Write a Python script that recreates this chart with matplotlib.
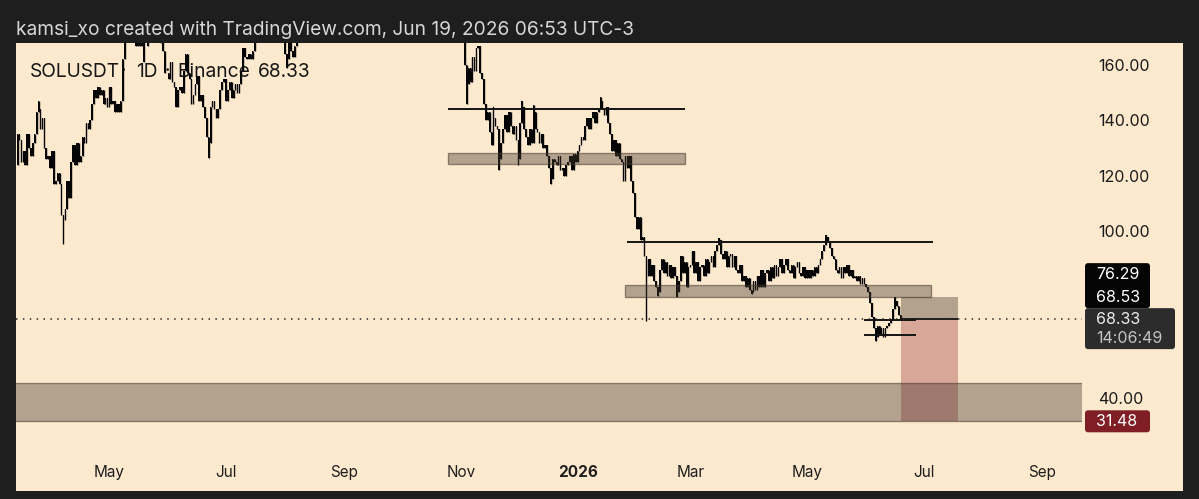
import matplotlib
matplotlib.use('Agg')
import matplotlib.pyplot as plt
import numpy as np
import pandas as pd
import matplotlib.dates as mdates
from matplotlib.patches import Rectangle, FancyBboxPatch

plt.rcParams['font.family'] = ['Inter', 'DejaVu Sans']

# SOLUSDT daily closes (Binance), starting 2025-03-13
mar25 = [124, 135, 133, 125, 129, 124, 135, 130, 127, 132, 135, 143, 144, 137, 141, 130, 126, 127, 123]
apr25 = [129, 117, 118, 121, 117, 106, 104, 108, 118, 112, 125, 131, 124, 132, 125, 127, 134, 132, 139, 137,
         140, 146, 151, 148, 152, 149, 151, 146, 148, 145]
may25 = [152, 146, 147, 143, 146, 143, 147, 162, 173, 172, 174, 175, 180, 175, 167, 171, 167, 172, 167, 167,
         170, 180, 176, 177, 177, 176, 178, 168, 165, 157, 157]
jun25 = [155, 161, 154, 152, 145, 151, 152, 150, 158, 164, 157, 155, 146, 149, 153, 156, 147, 149, 145, 141,
         134, 132, 145, 147, 144, 141, 144, 151, 154, 155]
jul25 = [147, 151, 154, 148, 151, 153, 150, 153, 158, 166, 163, 162, 164, 162, 165, 174, 176, 178, 177, 185,
         194, 202, 188, 187, 186, 187, 192, 182, 180, 177, 172]
aug25 = [164, 162, 168, 165, 163, 167, 176, 175, 180, 178, 174, 196, 202, 193, 186, 186, 189, 180, 178, 186,
         182, 200, 205, 205, 193, 200, 212, 214, 207, 206, 201]
sep25 = [205, 210, 210, 205, 205, 203, 205, 214, 218, 220, 224, 228, 242, 245, 238, 235, 245, 244, 240, 245,
         238, 228, 220, 215, 200, 208, 205, 203, 210, 208]
oct25 = [220, 230, 232, 228, 232, 227, 220, 225, 218, 185, 182, 198, 202, 200, 191, 185, 186, 186, 188, 184,
         183, 191, 195, 198, 200, 198, 196, 184, 194, 184, 186]
nov25 = [186, 185, 160, 153, 159, 154, 163, 158, 166, 167, 157, 155, 146, 140, 143, 136, 131, 141, 138, 137,
         126, 132, 137, 142, 136, 143, 138, 135, 138, 133]
dec25 = [126, 139, 145, 137, 134, 131, 137, 132, 143, 137, 136, 132, 135, 130, 131, 127, 123, 119, 126, 125,
         124, 127, 122, 123, 120, 124, 125, 127, 122, 128, 125]
jan26 = [129, 131, 134, 133, 138, 141, 137, 141, 143, 139, 143, 144, 147, 144, 142, 145, 139, 135, 129, 133,
         127, 132, 126, 125, 118, 127, 123, 127, 118, 114, 105]
feb26 = [101, 105, 97, 98, 91, 84, 90, 84, 88, 82, 80, 78, 86, 90, 85, 89, 84, 88, 83, 87,
         84, 78, 82, 91, 85, 89, 80, 87]
mar26 = [88, 93, 85, 89, 82, 87, 88, 84, 90, 85, 89, 91, 87, 93, 95, 97, 92, 90, 93, 87,
         91, 92, 87, 91, 86, 85, 88, 82, 84, 80, 83]
apr26 = [79, 78, 82, 79, 84, 80, 86, 80, 85, 86, 82, 87, 83, 88, 84, 87, 90, 85, 88, 90,
         86, 85, 88, 83, 87, 89, 85, 84, 87, 83]
may26 = [86, 83, 86, 84, 87, 85, 88, 90, 93, 95, 98, 96, 94, 91, 90, 86, 85, 87, 83, 87,
         85, 88, 84, 86, 83, 84, 82, 84, 81, 83, 81]
jun26 = [80, 78, 74, 69, 65, 62, 66, 63, 65, 62, 65, 66, 67, 68, 72, 75, 73, 70, 68.33]

# wicks that reach past the body
low_wick_dates = ['2025-04-07', '2025-05-19', '2025-06-22', '2025-08-02', '2025-11-04', '2025-11-21',
                  '2025-12-01', '2025-12-18', '2026-02-06', '2026-02-12', '2026-02-22', '2026-04-02',
                  '2026-06-06']
low_wick_vals = [95.5, 161, 126.5, 159, 146, 122, 124, 117, 67.8, 76.5, 76.3, 77.5, 60.5]
high_wick_dates = ['2025-03-25', '2025-11-18', '2025-12-03', '2025-12-09', '2026-01-13', '2026-03-16',
                   '2026-05-11', '2026-06-16']
high_wick_vals = [147, 145, 147, 145.5, 148.5, 97.6, 98.7, 76.3]

# drawings
line_starts = ['2025-10-25', '2026-01-27', '2026-05-31', '2026-05-31']
line_ends = ['2026-02-26', '2026-07-06', '2026-06-27', '2026-06-27']
line_prices = [144.0, 96.3, 68.0, 62.7]
zone_starts = ['2025-10-25', '2026-01-26', '2025-01-01']
zone_ends = ['2026-02-26', '2026-07-05', '2026-12-31']
zone_lows = [124.4, 76.3, 31.48]
zone_highs = [128.1, 80.5, 45.4]
pos_start, pos_end = '2026-06-19', '2026-07-19'
entry, stop, target = 68.53, 76.29, 31.48
last_price = 68.33

tick_dates = ['2025-05-01', '2025-07-01', '2025-09-01', '2025-11-01', '2026-01-01',
              '2026-03-01', '2026-05-01', '2026-07-01', '2026-09-01']
tick_labels = ['May', 'Jul', 'Sep', 'Nov', '2026', 'Mar', 'May', 'Jul', 'Sep']
price_ticks = [40, 100, 120, 140, 160]

closes = np.array(mar25 + apr25 + may25 + jun25 + jul25 + aug25 + sep25 + oct25 + nov25 + dec25
                  + jan26 + feb26 + mar26 + apr26 + may26 + jun26, dtype=float)
dates = pd.date_range('2025-03-13', periods=len(closes), freq='D')
opens = np.concatenate([[closes[0]], closes[:-1]])
lows = np.minimum(opens, closes)
highs = np.maximum(opens, closes)
s_low = pd.Series(lows, index=dates)
s_high = pd.Series(highs, index=dates)
for d, v in zip(low_wick_dates, low_wick_vals):
    s_low[pd.Timestamp(d)] = min(s_low[pd.Timestamp(d)], v)
for d, v in zip(high_wick_dates, high_wick_vals):
    s_high[pd.Timestamp(d)] = max(s_high[pd.Timestamp(d)], v)

W, H = 1199, 499
BG = '#FDE9CE'
DARK = '#1E1E1E'
fig = plt.figure(figsize=(W / 100, H / 100), dpi=100, facecolor=DARK)
fig.add_artist(Rectangle((16 / W, 8 / H), (1183 - 16) / W, (456 - 8) / H, transform=fig.transFigure,
                         facecolor=BG, edgecolor='none', zorder=-5))

ax = fig.add_axes([16 / W, 49 / H, (1082 - 16) / W, (456 - 49) / H])
ax.set_facecolor(BG)
for sp in ax.spines.values():
    sp.set_visible(False)

jan1 = mdates.date2num(pd.Timestamp('2026-01-01'))
ax.set_xlim(jan1 - 293.8, jan1 + 263.9)
ax.set_ylim(21.13, 167.93)

x = mdates.date2num(dates)
ax.vlines(x, s_low.values, s_high.values, color='#050505', lw=1.0, zorder=3)
ax.bar(x, highs - lows, bottom=lows, width=0.78, color='#050505', linewidth=0, zorder=3)

# zones
for a, b, lo, hi in zip(zone_starts, zone_ends, zone_lows, zone_highs):
    xa, xb = mdates.date2num(pd.Timestamp(a)), mdates.date2num(pd.Timestamp(b))
    ax.add_patch(Rectangle((xa, lo), xb - xa, hi - lo, facecolor=(0.27, 0.22, 0.18, 0.40),
                           edgecolor=(0.27, 0.22, 0.18, 0.55), lw=1, zorder=5))

# short position tool
pa, pb = mdates.date2num(pd.Timestamp(pos_start)), mdates.date2num(pd.Timestamp(pos_end))
ax.add_patch(Rectangle((pa, target), pb - pa, entry - target, facecolor='#D8A797', edgecolor='none', zorder=4))
ax.add_patch(Rectangle((pa, entry), pb - pa, stop - entry, facecolor=(0.27, 0.22, 0.18, 0.40),
                       edgecolor='none', zorder=5))
ax.hlines(entry, pa, pb, color='#141414', lw=1.3, zorder=6)

# levels
for a, b, p in zip(line_starts, line_ends, line_prices):
    ax.hlines(p, mdates.date2num(pd.Timestamp(a)), mdates.date2num(pd.Timestamp(b)),
              color='#141414', lw=1.4, zorder=6)

# last price dotted line
ax.axhline(last_price, color='#2A2A2A', lw=1.1, linestyle=(0, (1, 3.5)), zorder=6)

# axes ticks
ax.set_xticks(mdates.date2num(pd.to_datetime(tick_dates)))
ax.set_xticklabels(tick_labels, fontsize=11, color='#1E1E1E')
ax.get_xticklabels()[4].set_fontweight('bold')
ax.yaxis.tick_right()
ax.set_yticks(price_ticks)
ax.set_yticklabels(['%.2f' % v for v in price_ticks], fontsize=11.5, color='#1A1A1A')
ax.tick_params(axis='x', length=0, pad=11)
ax.tick_params(axis='y', length=0, pad=11.5)

# legend pieces
legend_parts = ['SOLUSDT', '·', '1D', '·', 'Binance', '68.33']
legend_px = [30, 121, 136, 164, 177, 258]
for t, px in zip(legend_parts, legend_px):
    ax.text((px - 16) / 1066, 1 - 29 / 407, t, transform=ax.transAxes,
            fontsize=13.8, color='#161616', va='center', ha='left', zorder=1)

fig.text(16 / W, 1 - 30 / H, 'kamsi_xo created with TradingView.com, Jun 19, 2026 06:53 UTC-3',
         fontsize=13.8, color='#D6D6D6', va='center', ha='left')

# overlay in pixel coords for price labels
ov = fig.add_axes([0, 0, 1, 1])
ov.set_xlim(0, W)
ov.set_ylim(H, 0)
ov.axis('off')
ov.patch.set_alpha(0)


def py(price):
    return H - ax.transData.transform((jan1, price))[1]


y_last = py(last_price)
y_tgt = py(target)
ov.add_patch(FancyBboxPatch((1085, y_last - 56), 65, 45, boxstyle='round,pad=0,rounding_size=3',
                            facecolor='#050505', edgecolor='none'))
ov.text(1096, y_last - 45, '%.2f' % stop, color='white', fontsize=11.5, va='center', ha='left')
ov.text(1096, y_last - 22, '%.2f' % entry, color='white', fontsize=11.5, va='center', ha='left')
ov.add_patch(FancyBboxPatch((1085, y_last - 11), 90, 41, boxstyle='round,pad=0,rounding_size=3',
                            facecolor='#2C2C2C', edgecolor='none'))
ov.text(1096, y_last, '%.2f' % last_price, color='#EDEDED', fontsize=11.5, va='center', ha='left')
ov.text(1096, y_last + 19, '14:06:49', color='#C4C4C4', fontsize=11.5, va='center', ha='left')
ov.add_patch(FancyBboxPatch((1085, y_tgt - 11), 65, 22, boxstyle='round,pad=0,rounding_size=3',
                            facecolor='#801E25', edgecolor='none'))
ov.text(1096, y_tgt, '%.2f' % target, color='white', fontsize=11.5, va='center', ha='left')

fig.savefig('out.png', dpi=100, facecolor=DARK)
